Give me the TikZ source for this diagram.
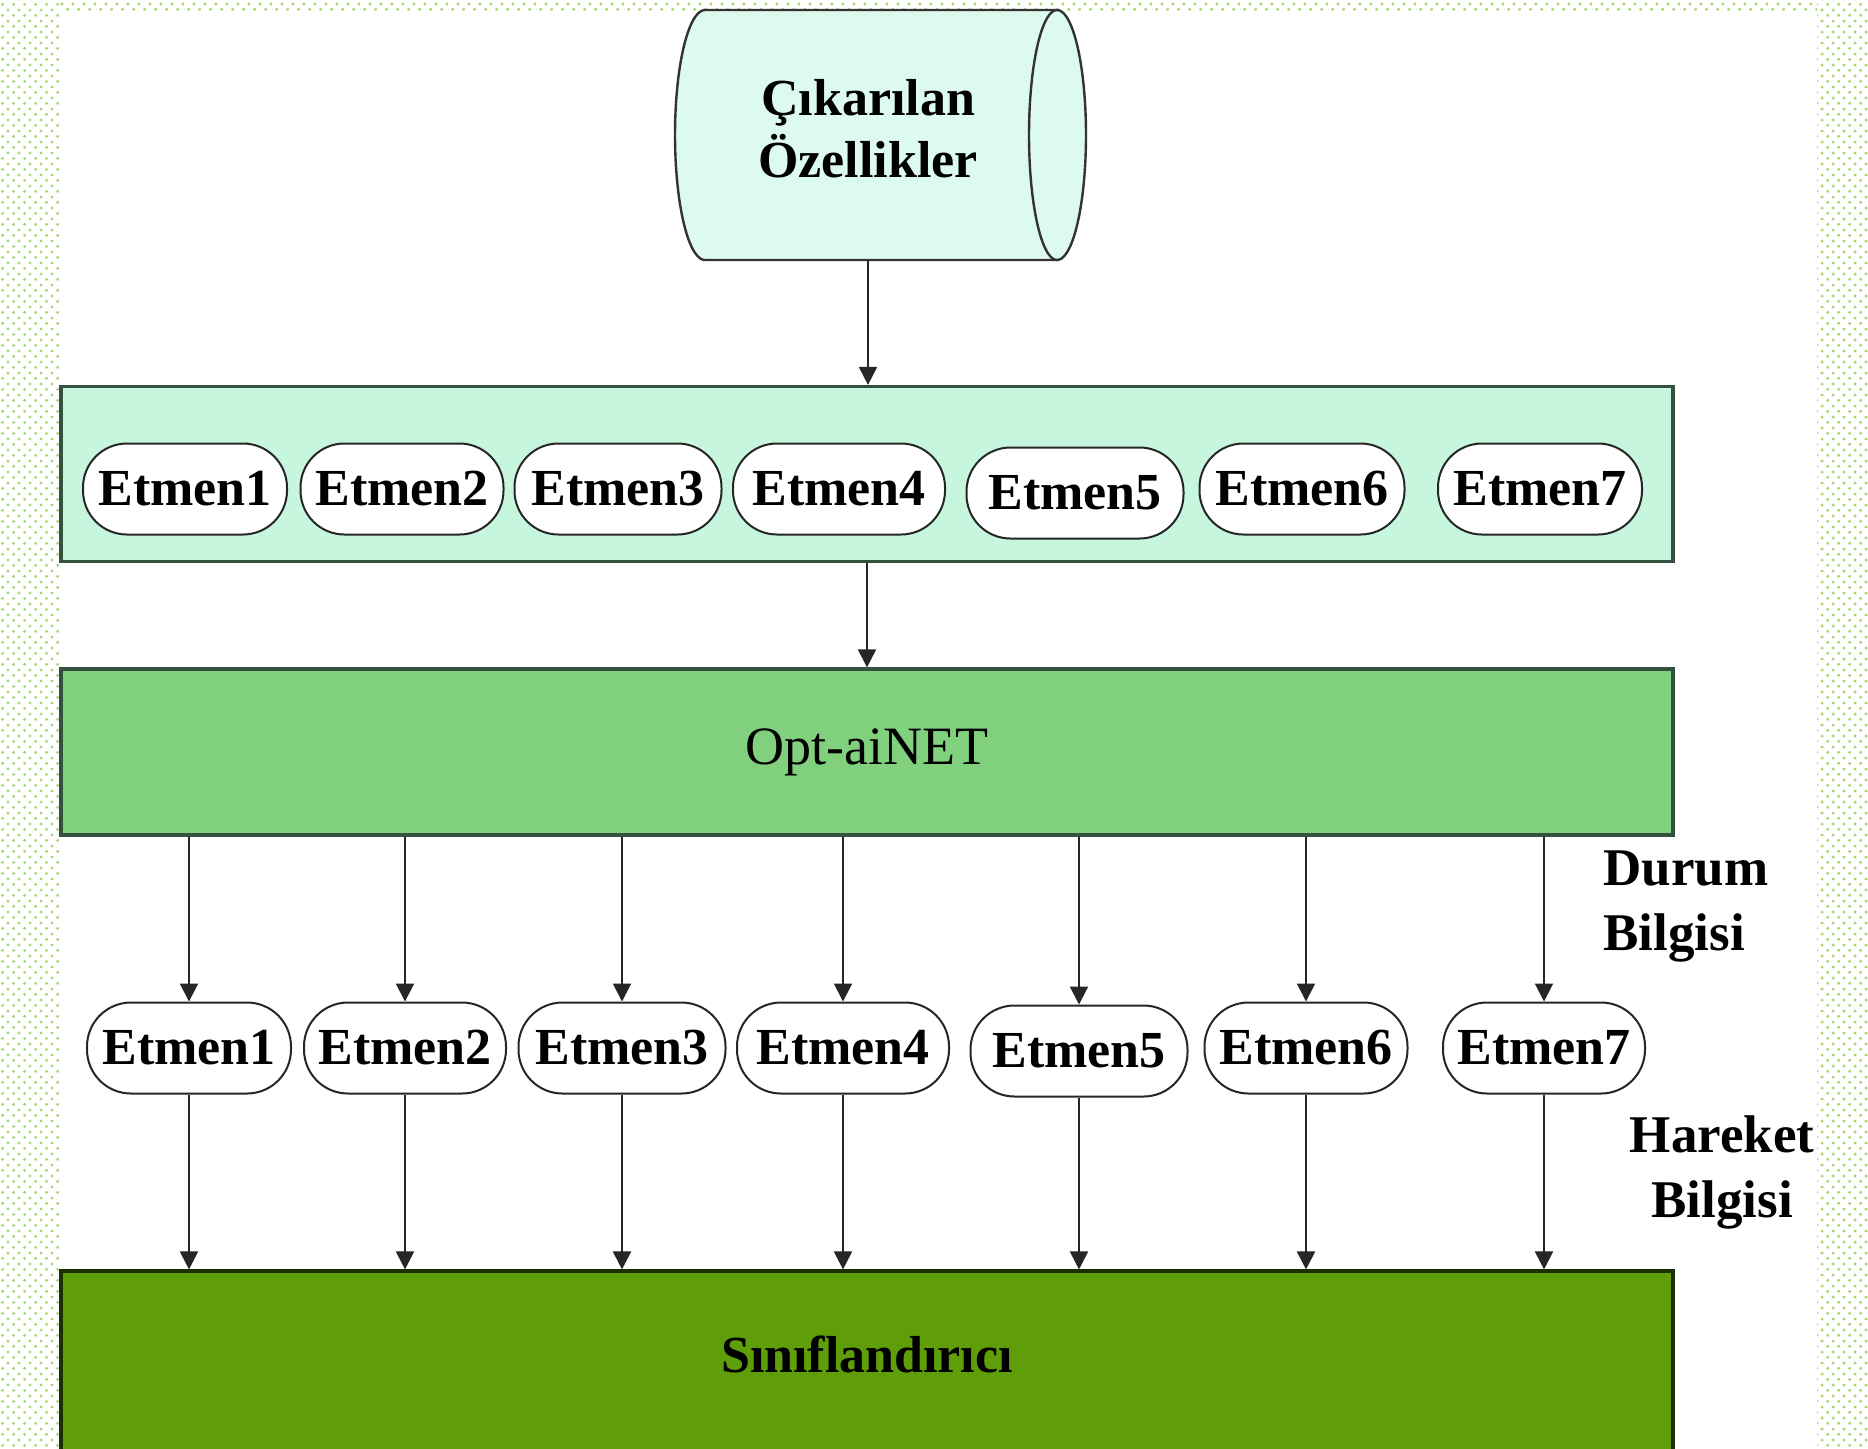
\documentclass[tikz,border=0pt]{standalone}
\usepackage{fontspec}
\setmainfont{Liberation Serif}
\usetikzlibrary{arrows.meta,patterns}
\definecolor{dotgreen}{HTML}{A9D672}
\definecolor{cylfill}{HTML}{DDFAEE}
\definecolor{mint}{HTML}{C6F6DE}
\definecolor{optgreen}{HTML}{80D07E}
\definecolor{clsgreen}{HTML}{5F9E08}
\definecolor{edgedark}{HTML}{34503E}
\pgfdeclarepatternformonly{bgdots}{\pgfqpoint{0pt}{0pt}}{\pgfqpoint{5.4pt}{5.4pt}}{\pgfqpoint{5.4pt}{5.4pt}}{%
  \pgfpathcircle{\pgfqpoint{1.35pt}{1.35pt}}{0.85pt}%
  \pgfpathcircle{\pgfqpoint{4.05pt}{4.05pt}}{0.85pt}%
  \pgfusepath{fill}}
\tikzset{
  arr/.style={line width=1pt, draw=black!85, -{Triangle[width=9pt,length=9pt]}},
  bigbox/.style={draw=edgedark, line width=1.6pt, minimum width=806pt, inner sep=0pt},
  etmen/.style={draw=black!85, fill=white, line width=1pt, rounded corners=22pt,
    minimum height=45.5pt, inner sep=0pt, font=\fontsize{26}{30}\selectfont\bfseries},
  lbl/.style={inner sep=0pt, font=\fontsize{26.5}{32.5}\selectfont\bfseries}
}
\begin{document}
\begin{tikzpicture}[x=0.5pt,y=-0.5pt]
\useasboundingbox (0,0) rectangle (1868,1448);
% background dotted border
\fill[pattern=bgdots, pattern color=dotgreen] (0,0) rectangle (60,1448);
\fill[pattern=bgdots, pattern color=dotgreen] (60,0) rectangle (1817,10);
\fill[pattern=bgdots, pattern color=dotgreen] (1817,0) rectangle (1868,1448);

% cylinder (direct access storage)
\filldraw[fill=cylfill, draw=black!80, line width=1.2pt]
  (705,10) -- (1057,10)
  -- plot[domain=-90:90, samples=40, smooth] ({1057+29*cos(\x)},{135+125*sin(\x)})
  -- (705,260)
  -- plot[domain=90:270, samples=40, smooth] ({705+30*cos(\x)},{135+125*sin(\x)})
  -- cycle;
\draw[black!80, line width=1.2pt]
  plot[domain=90:270, samples=40, smooth] ({1057+28*cos(\x)},{135+125*sin(\x)});
\coordinate (cylbot) at (868,260);
\node[inner sep=0pt, align=center,
  font=\fontsize{26}{31}\selectfont\bfseries] (cyl) at (868,129) {Çıkarılan\\Özellikler};

% big boxes
\node[bigbox, fill=mint, minimum height=87.5pt] (box1) at (867,474) {};
\node[bigbox, fill=optgreen, minimum height=83pt, font=\fontsize{27}{32}\selectfont] (opt) at (867,752) {Opt-aiNET};
\node[bigbox, draw=black!70!clsgreen, fill=clsgreen, minimum height=95pt] (cls) at (867,1366) {};
\node[inner sep=0pt, font=\fontsize{26}{32}\selectfont\bfseries] (clstext) at (867,1354) {Sınıflandırıcı};

% first row of agents
\foreach \i/\x/\y/\w in {1/185/489/102pt, 2/402/489/101.5pt, 3/618/489/103.5pt, 4/839/489/106pt,
                         5/1075/493/108.5pt, 6/1302/489/102.5pt, 7/1540/489/102pt}
  \node[etmen, minimum width=\w] (a\i) at (\x,\y) {Etmen\i};

% second row of agents
\foreach \i/\x/\y/\w in {1/189/1048/102pt, 2/405/1048/101pt, 3/622/1048/103.5pt, 4/843/1048/106pt,
                         5/1079/1051/108.5pt, 6/1306/1048/101.5pt, 7/1544/1048/101pt}
  \node[etmen, minimum width=\w] (b\i) at (\x,\y) {Etmen\i};

% connectors
\draw[arr] (cylbot) -- (cylbot |- box1.north);
\draw[arr] (box1.south) -- (opt.north);
\foreach \i in {1,...,7}{
  \draw[arr] (opt.south -| b\i.north) -- (b\i.north);
  \draw[arr] (b\i.south) -- (b\i.south |- cls.north);
}

% side labels (base anchor = baseline of the last line)
\node[lbl, anchor=base west, align=left] (durum) at (1603,950) {Durum\\Bilgisi};
\node[lbl, anchor=base, align=center] (hareket) at (1722,1217) {Hareket\\Bilgisi};
\end{tikzpicture}
\end{document}
